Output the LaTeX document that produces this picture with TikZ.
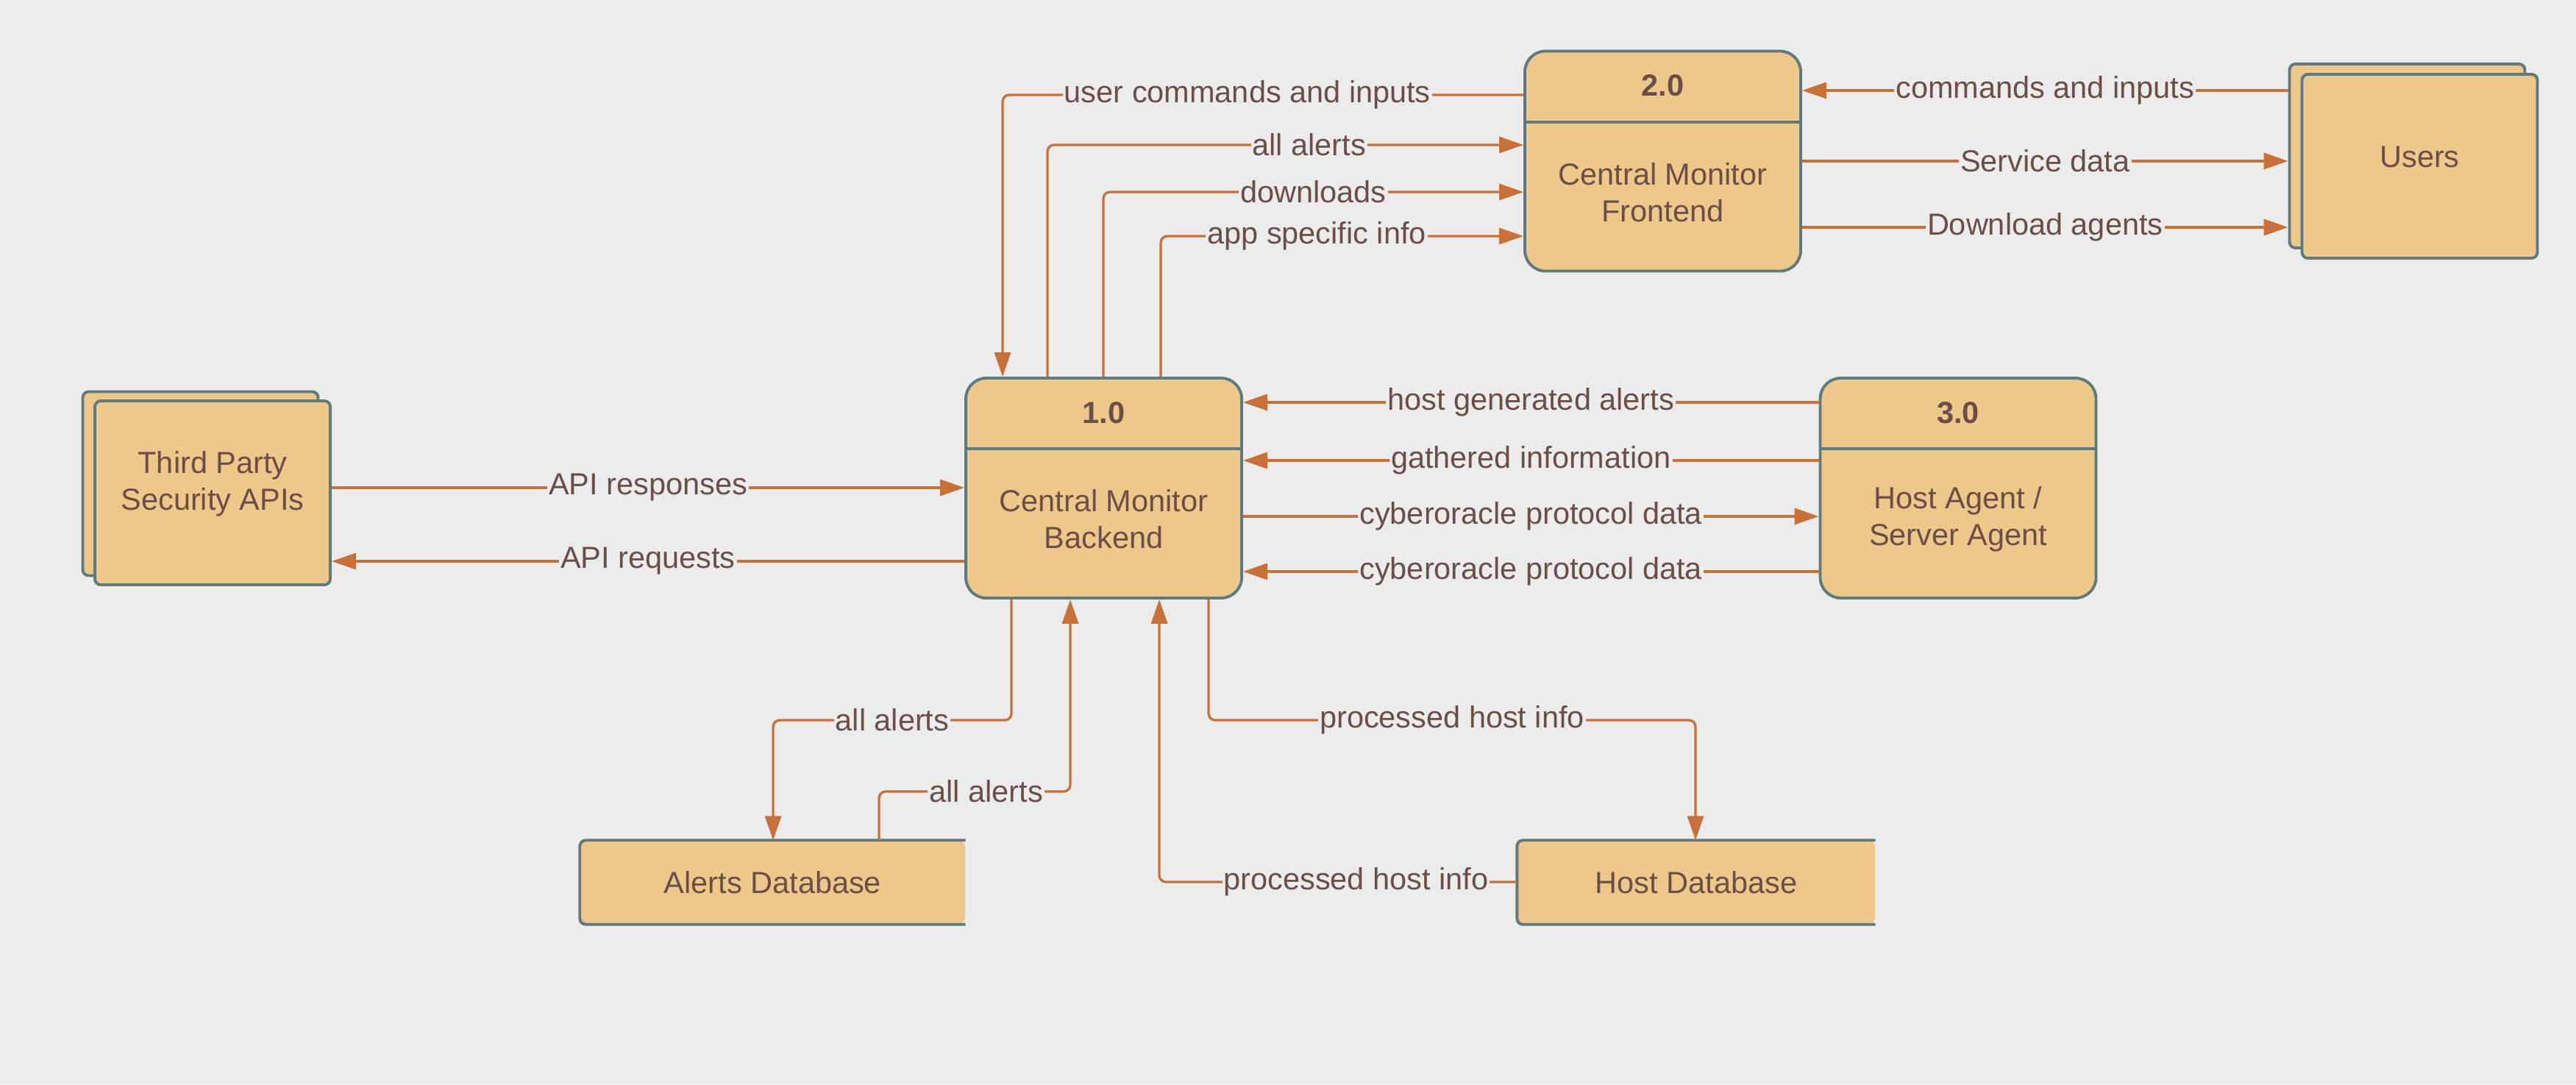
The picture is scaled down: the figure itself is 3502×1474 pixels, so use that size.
\documentclass[tikz,border=0pt]{standalone}
\usepackage{fontspec}
\setmainfont{Liberation Sans}
\usepackage{tikz}
\usetikzlibrary{positioning,arrows.meta,calc}
\definecolor{bgc}{HTML}{ECECEC}
\definecolor{boxc}{HTML}{EDC88A}
\definecolor{edgec}{HTML}{5E7A7D}
\definecolor{flowc}{HTML}{C7703A}
\definecolor{txtc}{HTML}{6B4E47}
\newcommand{\dfdfont}{\fontsize{11.8}{14.2}\selectfont}

\tikzset{
  proc/.style={draw=edgec, fill=boxc, line width=1.1pt, rounded corners=2.8mm, minimum width=37.5mm, minimum height=29.9mm, inner sep=0pt},
  ext/.style={draw=edgec, fill=boxc, line width=1.1pt, rounded corners=0.8mm, minimum width=32mm, minimum height=25mm, inner sep=0pt},
  store/.style={fill=boxc, rounded corners=0.8mm, minimum height=11.3mm, inner sep=0pt, text=txtc},
  txt/.style={text=txtc, align=center, inner sep=0pt},
  hdr/.style={txt, font=\dfdfont\bfseries},
  flow/.style={draw=flowc, line width=0.95pt, rounded corners=0.9mm, -{Triangle[length=3.3mm,width=2.2mm]}},
  lbl/.style={fill=bgc, text=txtc, inner xsep=0.6pt, inner ysep=0.5pt, sharp corners},
}

\begin{document}
\begin{tikzpicture}[x=0.1mm, y=-0.1mm, font=\dfdfont]
\fill[bgc] (0,0) rectangle (3502,1474);
\useasboundingbox (0,0) rectangle (3502,1474);

% processes
\node[proc] (backend) at (1500.5,663.5) {};
\node[proc] (frontend) at (2260.5,219) {};
\node[proc] (agent) at (2662,663.5) {};
\foreach \nm/\id/\desc in {backend/1.0/{Central Monitor\\Backend}, frontend/2.0/{Central Monitor\\Frontend}, agent/3.0/{Host Agent /\\Server Agent}} {
  \draw[edgec, line width=1.1pt] ($(\nm.north west)+(0,98)$) -- ($(\nm.north east)+(0,98)$);
  \node[hdr] (\nm-no) at ($(\nm.north)+(0,49)$) {\id};
  \node[txt] (\nm-txt) at ($(\nm.north)+(0,194)$) {\desc};
}

% external entities
\node[ext] (tpa-back) at (272.5,657.5) {};
\node[ext] (tpa) at (289,670) {};
\node[txt] (tpa-txt) at ($(tpa)+(0,-12)$) {Third Party\\Security APIs};
\node[ext] (users-back) at (3272.5,212) {};
\node[ext] (users) at (3289.5,226) {};
\node[txt] (users-txt) at ($(users)+(0,-13)$) {Users};

% data stores
\node[store, minimum width=52.3mm] (alertsdb) at (1050.5,1199.5) {Alerts Database};
\node[store, minimum width=48.6mm] (hostdb) at (2306,1199.5) {Host Database};
\foreach \nm in {alertsdb, hostdb}
  \draw[edgec, line width=1.1pt, rounded corners=0.8mm] (\nm.north east) -- (\nm.north west) -- (\nm.south west) -- (\nm.south east);

% frontend <-> backend
\draw[flow] (frontend.west |- 0,129) -- node[lbl, pos=.53] {user commands and inputs} (1363,129) -- (backend.north -| 1363,0);
\draw[flow] (backend.north -| 1424,0) -- (1424,197) -- node[lbl, pos=.55] {all alerts} (frontend.west |- 0,197);
\draw[flow] (backend.north -| 1500,0) -- (1500,261) -- node[lbl, pos=.5] {downloads} (frontend.west |- 0,261);
\draw[flow] (backend.north -| 1578,0) -- (1578,321) -- node[lbl, pos=.43] {app specific info} (frontend.west |- 0,321);

% frontend <-> users
\draw[flow] (users-back.west |- 0,123) -- node[lbl] {commands and inputs} (frontend.east |- 0,123);
\draw[flow] (frontend.east |- 0,219) -- node[lbl] {Service data} (users-back.west |- 0,219);
\draw[flow] (frontend.east |- 0,309) -- node[lbl] {Download agents} (users-back.west |- 0,309);

% backend <-> agent
\draw[flow] (agent.west |- 0,547) -- node[lbl] {host generated alerts} (backend.east |- 0,547);
\draw[flow] (agent.west |- 0,626) -- node[lbl] {gathered information} (backend.east |- 0,626);
\draw[flow] (backend.east |- 0,702) -- node[lbl] {cyberoracle protocol data} (agent.west |- 0,702);
\draw[flow] (agent.west |- 0,777) -- node[lbl] {cyberoracle protocol data} (backend.east |- 0,777);

% backend <-> third party
\draw[flow] (tpa.east |- 0,663) -- node[lbl] {API responses} (backend.west |- 0,663);
\draw[flow] (backend.west |- 0,763) -- node[lbl] {API requests} (tpa.east |- 0,763);

% backend <-> stores
\draw[flow] (backend.south -| 1375,0) -- (1375,979) -- node[lbl] {all alerts} (1051,979) -- (alertsdb.north -| 1051,0);
\draw[flow] (alertsdb.north -| 1195,0) -- (1195,1076) -- node[lbl, pos=.56] {all alerts} (1455,1076) -- (backend.south -| 1455,0);
\draw[flow] (hostdb.west |- 0,1199) -- node[lbl, pos=.45] {processed host info} (1576,1199) -- (backend.south -| 1576,0);
\draw[flow] (backend.south -| 1643,0) -- (1643,979) -- node[lbl] {processed host info} (2305,979) -- (hostdb.north -| 2305,0);
\end{tikzpicture}
\end{document}
